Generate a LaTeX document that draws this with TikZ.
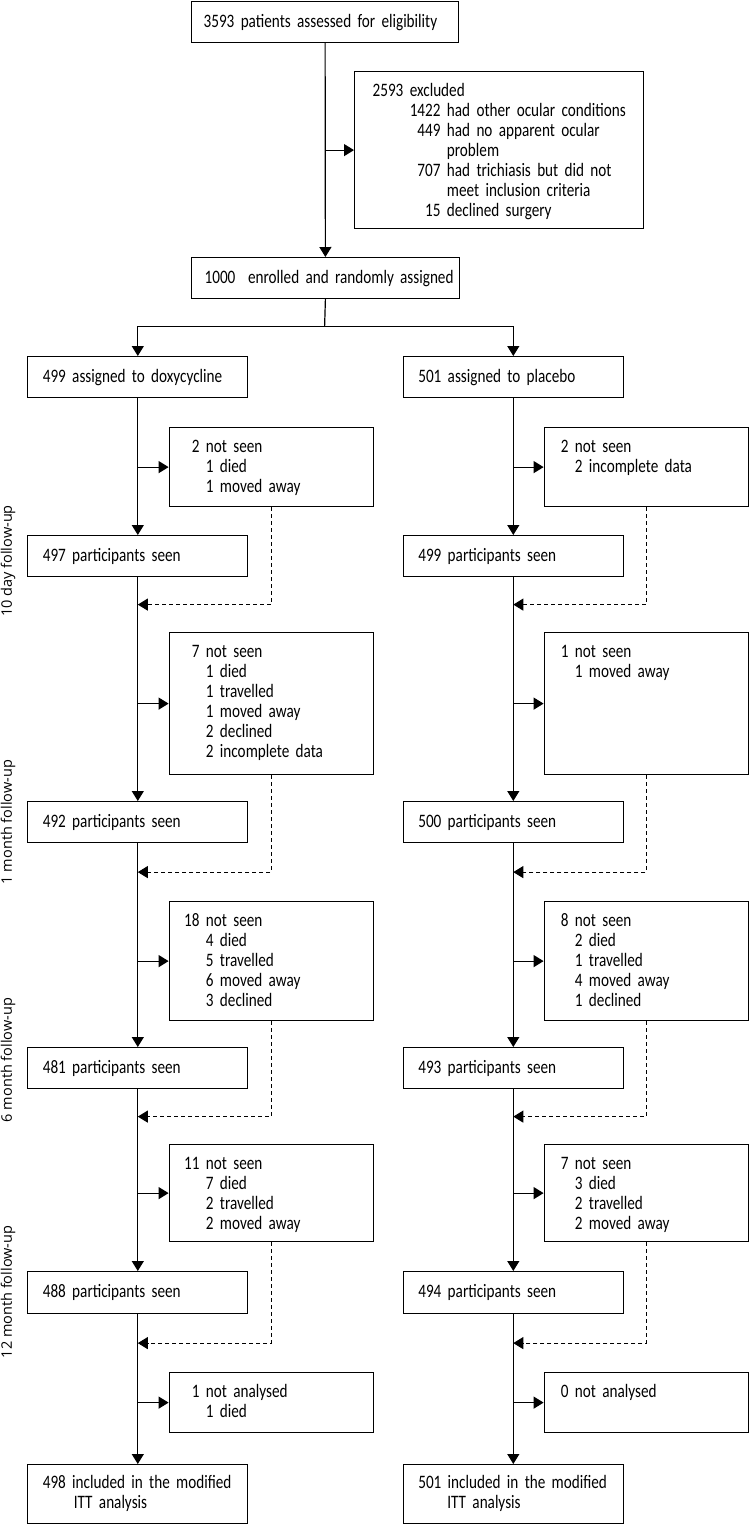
\documentclass[tikz,border=0pt]{standalone}
\usepackage{fontspec}
\setmainfont{Carlito}[FakeStretch=0.8, WordSpace=0.75]
\newfontfamily\sidefont{Open Sans}
\usepackage{array}
\usetikzlibrary{arrows.meta,calc}
\newcolumntype{N}[1]{>{\raggedleft\arraybackslash}p{#1}}
\newcommand{\lostlist}[1]{\begin{tabular}[t]{@{}N{16pt}@{\ }l@{}}#1\end{tabular}}
\newcommand{\itt}[2]{\begin{tabular}[t]{@{}p{#1}@{}l@{}}\multicolumn{2}{@{}l@{}}{#2}\\ & ITT analysis\end{tabular}}
\hyphenpenalty=10000

\begin{document}
\begin{tikzpicture}[x=1pt, y=-1pt, line width=1.2pt,
    font=\fontsize{19}{20}\selectfont,
    box/.style={draw, anchor=north west, inner xsep=15pt, inner ysep=0pt,
                align=left, text width=190pt, minimum height=41pt},
    lost/.style={draw, anchor=north west, inner ysep=0pt, align=left, text height=25pt},
    lostl/.style={lost, inner xsep=14.4pt, text width=175.2pt},
    lostr/.style={lost, inner xsep=8.4pt, text width=187.9pt},
    flow/.style={-{Triangle[length=10pt, width=12pt]}},
    back/.style={flow, line width=1pt, dash pattern=on 4pt off 3pt},
    side/.style={rotate=90, font=\sidefont\fontsize{14.5}{16}\selectfont}]

  \useasboundingbox (0,0) rectangle (749,1524);

  % ========== screening ==========
  \node[box, inner xsep=12pt, text width=243pt] (elig) at (191,1)
       {3593 patients assessed for eligibility};

  \node[lost, inner xsep=18pt, text width=253pt, text depth=132pt] (excl) at (354,71)
       {\begin{tabular}[t]{@{}N{68pt}@{\ }l@{}}
          \multicolumn{2}{@{}l@{}}{2593 excluded}\\
          1422 & had other ocular conditions\\
          449  & had no apparent ocular\\
               & problem\\
          707  & had trichiasis but did not\\
               & meet inclusion criteria\\
          15   & declined surgery
        \end{tabular}};

  \node[box, inner xsep=13pt, text width=241.6pt] (enrol) at (191,257)
       {\mbox{1000\ \ enrolled and randomly assigned}};

  \draw[flow] (elig.south) -- (enrol.north);
  \draw[flow] (elig.south |- excl.west) -- (excl.west);

  % split into the two arms
  \coordinate (split) at (324.6,326.7);
  \draw (enrol.south) -- (split);

  % ========== doxycycline arm ==========
  \node[box] (dassign) at (27.2,356) {499 assigned to doxycycline};
  \node[lostl, text depth=54pt] (dlost1) at (168.6,427)
       {\lostlist{2 & not seen\\ & 1 died\\ & 1 moved away}};
  \node[box] (dseen1) at (27.2,535) {497 participants seen};
  \node[lostl, text depth=117pt] (dlost2) at (168.6,632)
       {\lostlist{7 & not seen\\ & 1 died\\ & 1 travelled\\ & 1 moved away\\
                  & 2 declined\\ & 2 incomplete data}};
  \node[box] (dseen2) at (27.2,801) {492 participants seen};
  \node[lostl, text depth=94pt] (dlost3) at (168.6,901)
       {\lostlist{18 & not seen\\ & 4 died\\ & 5 travelled\\ & 6 moved away\\ & 3 declined}};
  \node[box] (dseen3) at (27.2,1047) {481 participants seen};
  \node[lostl, text depth=72pt] (dlost4) at (168.6,1144)
       {\lostlist{11 & not seen\\ & 7 died\\ & 2 travelled\\ & 2 moved away}};
  \node[box, minimum height=42pt] (dseen4) at (27.2,1271) {488 participants seen};
  \node[lostl, text depth=35pt] (dlost5) at (168.6,1372)
       {\lostlist{1 & not analysed\\ & 1 died}};
  \node[box, minimum height=59pt] (dfinal) at (27.2,1464)
       {\itt{31pt}{498 included in the modified}};

  % ========== placebo arm ==========
  \node[box] (passign) at (402.7,356) {501 assigned to placebo};
  \node[lostr, text depth=54pt] (plost1) at (543.6,427)
       {\lostlist{2 & not seen\\ & 2 incomplete data}};
  \node[box] (pseen1) at (402.7,535) {499 participants seen};
  \node[lostr, text depth=117pt] (plost2) at (543.6,632)
       {\lostlist{1 & not seen\\ & 1 moved away}};
  \node[box] (pseen2) at (402.7,801) {500 participants seen};
  \node[lostr, text depth=94pt] (plost3) at (543.6,901)
       {\lostlist{8 & not seen\\ & 2 died\\ & 1 travelled\\ & 4 moved away\\ & 1 declined}};
  \node[box] (pseen3) at (402.7,1047) {493 participants seen};
  \node[lostr, text depth=72pt] (plost4) at (543.6,1144)
       {\lostlist{7 & not seen\\ & 3 died\\ & 2 travelled\\ & 2 moved away}};
  \node[box, minimum height=42pt] (pseen4) at (402.7,1271) {494 participants seen};
  \node[lostr, text depth=35pt] (plost5) at (543.6,1372)
       {\lostlist{0 & not analysed}};
  \node[box, minimum height=59pt] (pfinal) at (402.7,1464)
       {\itt{29pt}{501 included in the modified}};

  \draw[flow] (split) -| (dassign.north);
  \draw[flow] (split) -| (passign.north);

  % main flow, losses to the side, dashed return
  \foreach \a in {d,p} {
    \draw[flow] (\a assign.south) -- (\a seen1.north);
    \draw[flow] (\a seen1.south) -- (\a seen2.north);
    \draw[flow] (\a seen2.south) -- (\a seen3.north);
    \draw[flow] (\a seen3.south) -- (\a seen4.north);
    \draw[flow] (\a seen4.south) -- (\a final.north);
    \foreach \i in {1,...,5}
      \draw[flow] (\a final.north |- \a lost\i.west) -- (\a lost\i.west);
    \foreach \i/\n in {1/2,2/3,3/4,4/5}
      \draw[back] (\a lost\i.south)
        |- ($(\a seen\i.south)!.5!(\a seen\i.south |- \a lost\n.north)$);
  }

  % ========== follow-up labels ==========
  \node[side] (fu1) at (8,561)  {10 day follow-up};
  \node[side] (fu2) at (8,822)  {1 month follow-up};
  \node[side] (fu3) at (8,1060) {6 month follow-up};
  \node[side] (fu4) at (8,1292) {12 month follow-up};

\end{tikzpicture}
\end{document}
